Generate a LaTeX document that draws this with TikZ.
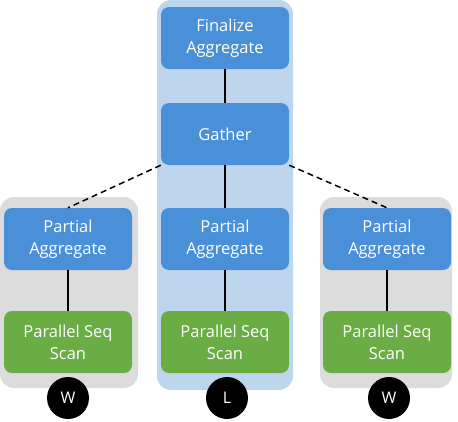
\documentclass[tikz,border=0pt]{standalone}
\usepackage{fontspec}
\setmainfont{Open Sans}

\definecolor{opblue}{RGB}{74,144,217}
\definecolor{opgreen}{RGB}{106,173,69}
\definecolor{leaderbg}{RGB}{189,214,238}
\definecolor{workerbg}{RGB}{220,220,220}

\tikzset{
    op/.style={draw=none, rounded corners=8pt, minimum width=128pt, minimum height=62pt,
        text=white, align=center, font=\fontsize{16.5}{22}\selectfont, inner sep=0pt},
    agg/.style={op, fill=opblue},
    scan/.style={op, fill=opgreen},
    proc/.style={circle, fill=black, minimum size=42pt, inner sep=0pt,
        text=white, font=\fontsize{16}{18}\selectfont},
    link/.style={line width=1.5pt},
    remote/.style={line width=1.5pt, dash pattern=on 6pt off 4pt}
}

\begin{document}
\begin{tikzpicture}[x=1pt, y=1pt]
        \useasboundingbox (0, 0) rectangle (458, -421);

        % process panels
        \fill[leaderbg, rounded corners=14pt] (157, 0) rectangle (293, -390);
        \fill[workerbg, rounded corners=14pt] (0, -197) rectangle (138, -388);
        \fill[workerbg, rounded corners=14pt] (320, -197) rectangle (452, -388);

        \node[agg] (fin) at (225, -38) {Finalize\\Aggregate};
        \node[agg] (gather) at (225, -134) {Gather};
        \node[agg] (pa) at (225, -239) {Partial\\Aggregate};
        \node[scan] (scan) at (225, -342) {Parallel Seq\\Scan};
        \node[agg] (lpa) at (68, -239) {Partial\\Aggregate};
        \node[scan] (lscan) at (68, -342) {Parallel Seq\\Scan};
        \node[agg] (rpa) at (387, -239) {Partial\\Aggregate};
        \node[scan] (rscan) at (387, -342) {Parallel Seq\\Scan};

        \node[proc] (lw) at (68, -398) {W};
        \node[proc] (ld) at (227, -398) {L};
        \node[proc] (rw) at (389, -398) {W};

        \draw [link] (fin) -- (gather);
        \draw [link] (gather) -- (pa);
        \draw [link] (pa) -- (scan);
        \draw [link] (lpa) -- (lscan);
        \draw [link] (rpa) -- (rscan);
        \draw [remote] (gather.south west) -- (lpa.north);
        \draw [remote] (gather.south east) -- (rpa.north);
    \end{tikzpicture}
\end{document}
